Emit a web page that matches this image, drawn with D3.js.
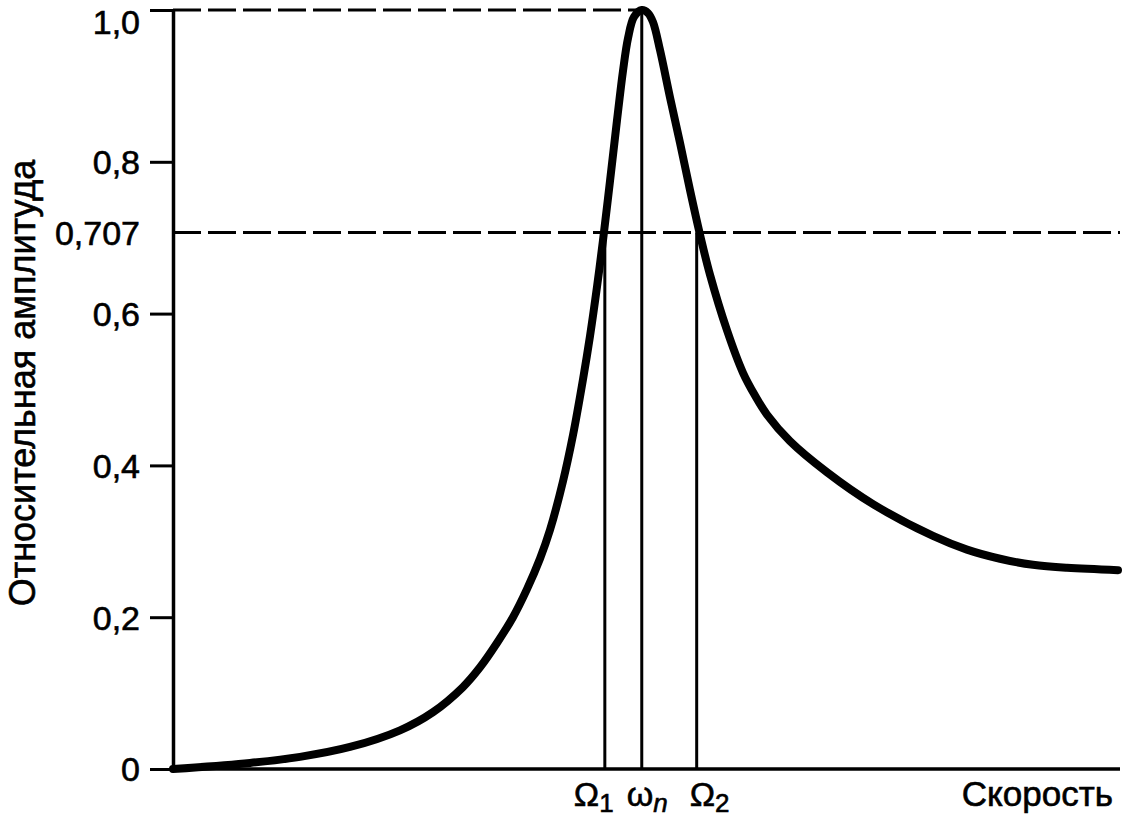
<!DOCTYPE html>
<html><head><meta charset="utf-8">
<script src="https://cdn.jsdelivr.net/npm/d3@7"></script>
<style>body{margin:0;background:#fff}svg{display:block}</style>
</head><body>
<svg id="c" width="1123" height="821"></svg>
<script>
// Data (speed in arbitrary units 0..100, relative amplitude 0..1)
const speed =     [0, 8.13, 13.41, 18.69, 23.97, 27.46, 30.62, 32.42, 34.21, 35.90, 37.38, 38.75, 39.81, 41.18, 42.24, 43.29, 44.03, 44.77, 45.41, 46.15, 46.88, 47.52, 48.05, 48.68, 49.5, 50.16, 50.69, 51.43, 52.48, 53.54, 54.59, 55.65, 56.71, 58.50, 60.19, 61.46, 62.72, 65.15, 69.06, 73.92, 80.25, 83.84, 87.33, 90.81, 94.40, 99.79];
const amplitude = [0, 0.008, 0.016, 0.029, 0.051, 0.075, 0.108, 0.134, 0.166, 0.200, 0.237, 0.277, 0.315, 0.379, 0.440, 0.513, 0.570, 0.635, 0.697, 0.775, 0.854, 0.920, 0.963, 0.991, 1.0, 0.996, 0.984, 0.947, 0.885, 0.825, 0.763, 0.704, 0.651, 0.578, 0.522, 0.492, 0.467, 0.432, 0.391, 0.349, 0.307, 0.289, 0.277, 0.269, 0.265, 0.262];
const yTicks = [0, 0.2, 0.4, 0.6, 0.8, 1.0];
const halfPower = 0.707;
const peakValue = 1.0;
const markerNames = ["Ω", "ω", "Ω"];
const markerSubs = ["1", "n", "2"];
const markerSpeed = [45.6, 49.5, 55.3];
const markerTop = [0.707, 1.0, 0.707];
const xTitle = "Скорость";
const yTitle = "Относительная амплитуда";

const svg = d3.select("#c");
const font = "'Liberation Sans', Arial, sans-serif";
const x = d3.scaleLinear([0, 100], [173, 1120]);
const y = d3.scaleLinear([0, 1], [769, 10]);

function ink(sel) { return sel.attr("fill", "#000").attr("stroke", "#000").attr("stroke-width", 0.6); }

// vertical marker lines
svg.append("g").selectAll("line").data(markerSpeed).join("line")
  .attr("x1", d => x(d)).attr("x2", d => x(d))
  .attr("y1", y(0)).attr("y2", (d, i) => y(markerTop[i]))
  .attr("stroke", "#000").attr("stroke-width", 3);

// dashed reference lines
svg.append("line").attr("x1", x(0)).attr("x2", x(49))
  .attr("y1", y(peakValue)).attr("y2", y(peakValue))
  .attr("stroke", "#000").attr("stroke-width", 3).attr("stroke-dasharray", "28,7");
svg.append("line").attr("x1", x(0)).attr("x2", x(100))
  .attr("y1", y(halfPower)).attr("y2", y(halfPower))
  .attr("stroke", "#000").attr("stroke-width", 3).attr("stroke-dasharray", "28,7");

// y axis
const yAxis = d3.axisLeft(y).tickValues(yTicks.concat([halfPower]))
  .tickSize(23).tickPadding(10).tickSizeOuter(0)
  .tickFormat(d => d === 0 ? "0" : d3.format(d === halfPower ? ".3f" : ".1f")(d).replace(".", ","));
const gy = svg.append("g").attr("transform", `translate(${x(0)},0)`).call(yAxis);
gy.select(".domain").attr("stroke-width", 3.5);
gy.selectAll(".tick line").attr("stroke-width", 3).filter(d => d === halfPower).remove();
ink(gy.selectAll(".tick text")).attr("font-family", font).attr("font-size", 34)
  .attr("dy", d => d === 1 ? "0.7em" : "0.35em");

// x axis
svg.append("line").attr("x1", x(0)).attr("x2", x(100)).attr("y1", y(0)).attr("y2", y(0))
  .attr("stroke", "#000").attr("stroke-width", 3.5);

// curve
const line = d3.line().x((d, i) => x(speed[i])).y(d => y(d)).curve(d3.curveCatmullRom.alpha(0.5));
svg.append("path").attr("d", line(amplitude)).attr("fill", "none")
  .attr("stroke", "#000").attr("stroke-width", 8).attr("stroke-linecap", "round").attr("stroke-linejoin", "round");

// marker labels
const offs = [-31, -15, -7];
markerSpeed.forEach((s, i) => {
  const t = ink(svg.append("text")).attr("x", x(s) + offs[i]).attr("y", 806)
    .attr("font-family", font).attr("font-size", 34);
  t.append("tspan").text(markerNames[i]);
  t.append("tspan").attr("dy", 6).attr("font-size", 26)
    .attr("font-style", i === 1 ? "italic" : "normal").text(markerSubs[i]);
});

// axis titles
ink(svg.append("text")).attr("x", 1113).attr("y", 806).attr("text-anchor", "end")
  .attr("font-family", font).attr("font-size", 35).text(xTitle);
ink(svg.append("text")).attr("transform", "translate(35,383) rotate(-90)").attr("text-anchor", "middle")
  .attr("font-family", font).attr("font-size", 36).text(yTitle);
</script>
</body></html>
